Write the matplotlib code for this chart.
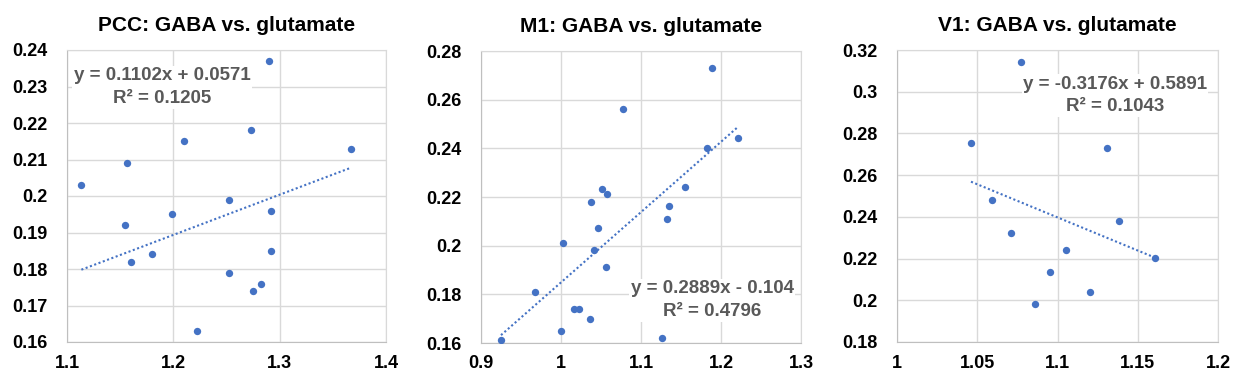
import matplotlib.pyplot as plt
import numpy as np

plt.rcParams['font.family'] = ['Liberation Sans', 'DejaVu Sans']

# PCC: GABA vs. glutamate
pcc_x = [1.1135, 1.1567, 1.155, 1.1599, 1.1795, 1.1983, 1.2105, 1.2218, 1.2528,
         1.2528, 1.2726, 1.2745, 1.282, 1.2895, 1.2914, 1.2923, 1.3674]
pcc_y = [0.203, 0.209, 0.192, 0.182, 0.184, 0.195, 0.215, 0.163, 0.199,
         0.179, 0.218, 0.174, 0.176, 0.237, 0.196, 0.185, 0.213]

# M1: GABA vs. glutamate
m1_x = [0.925, 0.9676, 1.0026, 1.0, 1.0164, 1.023, 1.0364, 1.0376, 1.0414, 1.0464, 1.0514,
        1.0577, 1.0564, 1.0777, 1.1265, 1.1327, 1.1352, 1.1552, 1.1828, 1.189, 1.2216]
m1_y = [0.1612, 0.1809, 0.201, 0.165, 0.174, 0.174, 0.170, 0.2179, 0.1982, 0.2072, 0.2232,
        0.2212, 0.1912, 0.256, 0.162, 0.2109, 0.2162, 0.224, 0.240, 0.2729, 0.2442]

# V1: GABA vs. glutamate
v1_x = [1.0461, 1.0773, 1.0592, 1.071, 1.086, 1.0953, 1.1053, 1.1202, 1.1306, 1.1383, 1.1607]
v1_y = [0.2753, 0.3141, 0.248, 0.2322, 0.198, 0.2138, 0.2239, 0.2038, 0.2729, 0.238, 0.2203]

panels = [
    ("PCC: GABA vs. glutamate", pcc_x, pcc_y, (0.1102, 0.0571),
     "y = 0.1102x + 0.0571\nR² = 0.1205", (1.1, 1.4, 0.1), (0.16, 0.24, 0.01),
     ["1.1", "1.2", "1.3", "1.4"], ["0.16", "0.17", "0.18", "0.19", "0.2", "0.21", "0.22", "0.23", "0.24"],
     (0.298, 0.872)),
    ("M1: GABA vs. glutamate", m1_x, m1_y, (0.2889, -0.104),
     "y = 0.2889x - 0.104\nR² = 0.4796", (0.9, 1.3, 0.1), (0.16, 0.28, 0.02),
     ["0.9", "1", "1.1", "1.2", "1.3"], ["0.16", "0.18", "0.2", "0.22", "0.24", "0.26", "0.28"],
     (0.722, 0.146)),
    ("V1: GABA vs. glutamate", v1_x, v1_y, (-0.3176, 0.5891),
     "y = -0.3176x + 0.5891\nR² = 0.1043", (1.0, 1.2, 0.05), (0.18, 0.32, 0.02),
     ["1", "1.05", "1.1", "1.15", "1.2"], ["0.18", "0.2", "0.22", "0.24", "0.26", "0.28", "0.3", "0.32"],
     (0.679, 0.844)),
]

W, H = 1237, 385
fig = plt.figure(figsize=(W / 100, H / 100), dpi=100)
boxes = [(67, 386, 50, 342), (481, 801, 51, 343), (897, 1218, 50, 342)]

blue = "#4472C4"
for (title, xs, ys, (m, b), eq, xr, yr, xl, yl, eqpos), (l, r, t, bt) in zip(panels, boxes):
    ax = fig.add_axes([l / W, 1 - bt / H, (r - l) / W, (bt - t) / H])
    ax.scatter(xs, ys, s=28, color=blue, zorder=3, linewidths=0)
    lx = np.array([min(xs), max(xs)])
    ax.plot(lx, m * lx + b, linestyle=(0, (1, 1.2)), color=blue, linewidth=1.5, zorder=2)
    xt = np.arange(xr[0], xr[1] + xr[2] / 2, xr[2])
    yt = np.arange(yr[0], yr[1] + yr[2] / 2, yr[2])
    ax.set_xlim(xr[0], xr[1])
    ax.set_ylim(yr[0], yr[1])
    ax.set_xticks(xt, xl)
    ax.set_yticks(yt, yl)
    ax.tick_params(length=0, labelsize=13, pad=9)
    for lab in ax.get_xticklabels() + ax.get_yticklabels():
        lab.set_fontweight("bold")
    ax.tick_params(axis="y", pad=14)
    ax.grid(True, color="#d9d9d9", linewidth=1)
    ax.set_axisbelow(True)
    for s in ax.spines.values():
        s.set_color("#d9d9d9")
    ax.spines["left"].set_color("#bfbfbf")
    ax.spines["bottom"].set_color("#bfbfbf")
    ax.set_title(title, fontsize=15, fontweight="bold", pad=14)
    ax.text(eqpos[0], eqpos[1], eq, transform=ax.transAxes, ha="center", va="center",
            fontsize=13.5, fontweight="bold", color="#595959", linespacing=1.45, zorder=4,
            bbox=dict(facecolor="white", edgecolor="none", pad=1))

fig.savefig("out.png", dpi=100)
